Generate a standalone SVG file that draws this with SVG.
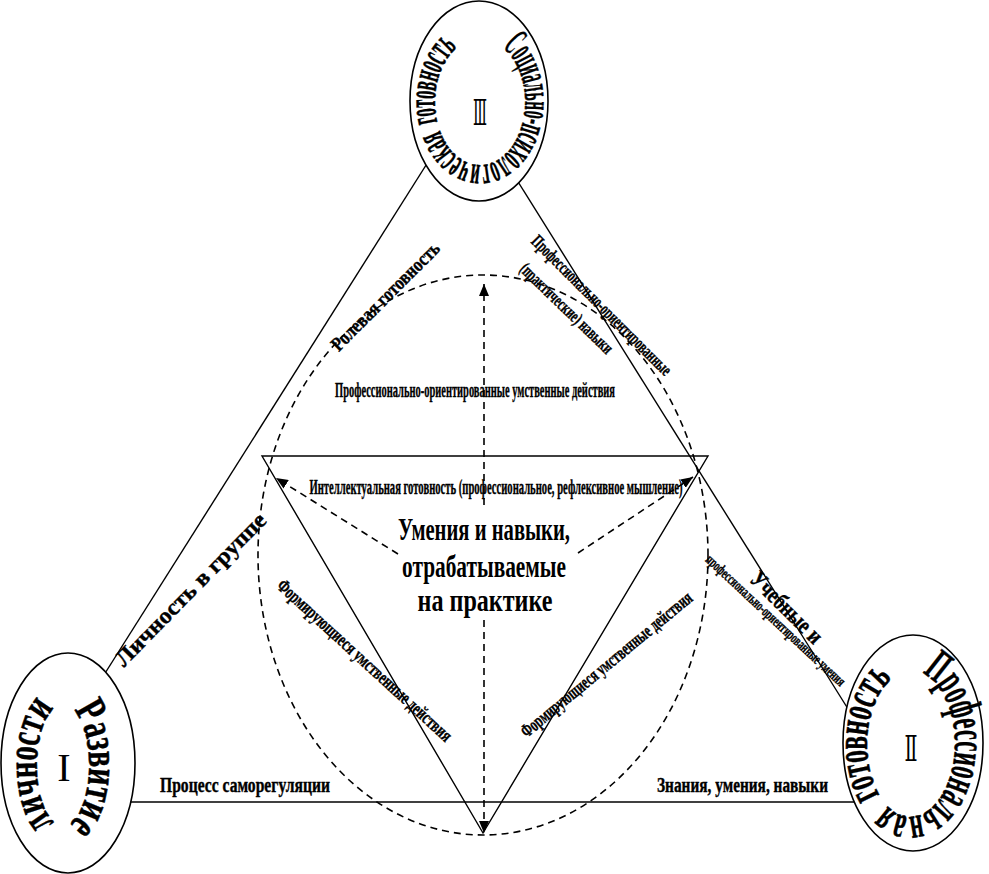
<svg xmlns="http://www.w3.org/2000/svg" width="989" height="874" viewBox="0 0 989 874">
<style>
.ln{stroke:#000;stroke-width:1.4;fill:none}
.dash{stroke:#000;stroke-width:1.6;fill:none;stroke-dasharray:7 5}
.ell{fill:#fff;stroke:#000;stroke-width:1.6}
.lbl{font-family:"Liberation Serif","Times New Roman",serif;font-weight:bold;fill:#000;stroke:#000;stroke-width:0.4}
.cen{font-family:"Liberation Serif","Times New Roman",serif;font-weight:bold;fill:#000;font-size:32px}
.arc{font-family:"Liberation Serif","Times New Roman",serif;font-weight:bold;fill:#000;stroke:#000;stroke-width:0.5}
.num{font-family:"Liberation Serif","DejaVu Serif",serif;fill:#000}
</style>
<defs>
<marker id="ah" viewBox="0 0 12 10" refX="12" refY="5" markerWidth="12" markerHeight="10" markerUnits="userSpaceOnUse" orient="auto">
<path d="M0,0 L12,5 L0,10 z" style="fill:#000;stroke:none"/>
</marker>
<path id="pTop" d="M502.5,47.4 A45,63 0 0,1 457.5,156.6 A45,63 0 0,1 502.5,47.4"/>
<path id="pLeft" d="M73.6,710.2 A26,60 0 0,1 52.4,819.8 A26,60 0 0,1 73.6,710.2"/>
<path id="pRight" d="M921.9,673.2 A45,73 0 0,1 900.1,814.8 A45,73 0 0,1 921.9,673.2"/>
</defs>

<g id="frame">
<line class="ln" x1="440" y1="143" x2="90" y2="697"/>
<line class="ln" x1="505" y1="161" x2="870" y2="744"/>
<line class="ln" x1="100" y1="802" x2="880" y2="802"/>
<polygon class="ln" points="262,456 708,456 483,833"/>
<ellipse class="dash" cx="483" cy="555" rx="225" ry="280"/>
</g>

<g id="connectors">
<line class="dash" x1="484" y1="505" x2="484" y2="284" marker-end="url(#ah)"/>
<line class="dash" x1="484" y1="620" x2="484" y2="833" marker-end="url(#ah)"/>
<line class="dash" x1="398" y1="554" x2="276" y2="478" marker-end="url(#ah)"/>
<line class="dash" x1="578" y1="553" x2="693" y2="477" marker-end="url(#ah)"/>
</g>

<g id="node3">
<ellipse class="ell" cx="479" cy="101" rx="69" ry="100"/>
<text class="arc" font-size="40"><textPath href="#pTop" startOffset="0" textLength="81" lengthAdjust="spacingAndGlyphs">Социально-</textPath></text>
<text class="arc" font-size="40"><textPath href="#pTop" startOffset="81" textLength="122" lengthAdjust="spacingAndGlyphs">психологическая</textPath></text>
<text class="arc" font-size="40"><textPath href="#pTop" startOffset="211" textLength="81" lengthAdjust="spacingAndGlyphs">готовность</textPath></text>
<text class="num" x="480" y="125" font-size="36" text-anchor="middle" textLength="14" lengthAdjust="spacingAndGlyphs">Ⅲ</text>
</g>

<g id="node1">
<ellipse class="ell" cx="68" cy="763" rx="67" ry="110"/>
<text class="arc" font-size="44"><textPath href="#pLeft" startOffset="0" textLength="122" lengthAdjust="spacingAndGlyphs">Развитие</textPath></text>
<text class="arc" font-size="44"><textPath href="#pLeft" startOffset="137" textLength="122" lengthAdjust="spacingAndGlyphs">личности</textPath></text>
<text class="num" x="64" y="781" font-size="40" text-anchor="middle">I</text>
</g>

<g id="node2">
<ellipse class="ell" cx="913" cy="743" rx="70" ry="108"/>
<text class="arc" font-size="46"><textPath href="#pRight" startOffset="0" textLength="201" lengthAdjust="spacingAndGlyphs">Профессиональная</textPath></text>
<text class="arc" font-size="46"><textPath href="#pRight" startOffset="214" textLength="125" lengthAdjust="spacingAndGlyphs">готовность</textPath></text>
<text class="num" x="911" y="761" font-size="36" text-anchor="middle" textLength="13" lengthAdjust="spacingAndGlyphs">Ⅱ</text>
</g>

<g id="labels">
<text class="lbl" font-size="20" text-anchor="middle" dy=".35em" transform="translate(385,296) rotate(-45)" textLength="145" lengthAdjust="spacingAndGlyphs">Ролевая готовность</text>
<text class="lbl" font-size="23" text-anchor="middle" dy=".35em" transform="translate(190,589) rotate(-45.5)" textLength="205" lengthAdjust="spacingAndGlyphs">Личность в группе</text>
<text class="lbl" font-size="18" text-anchor="middle" dy=".35em" transform="translate(602,305) rotate(45)" textLength="190" lengthAdjust="spacingAndGlyphs">Профессионально-ориентированные</text>
<text class="lbl" font-size="18" text-anchor="middle" dy=".35em" transform="translate(567,308) rotate(44)" textLength="122" lengthAdjust="spacingAndGlyphs">(практические) навыки</text>
<text class="lbl" font-size="24" text-anchor="middle" dy=".35em" transform="translate(787,607) rotate(45)" textLength="92" lengthAdjust="spacingAndGlyphs">Учебные и</text>
<text class="lbl" font-size="15" text-anchor="middle" dy=".35em" transform="translate(776,620) rotate(43)" textLength="185" lengthAdjust="spacingAndGlyphs">профессионально-ориентированные умения</text>
<text class="lbl" font-size="19" text-anchor="middle" dy=".35em" transform="translate(365,660) rotate(42.5)" textLength="230" lengthAdjust="spacingAndGlyphs">Формирующиеся умственные действия</text>
<text class="lbl" font-size="19" text-anchor="middle" dy=".35em" transform="translate(606,664) rotate(-39.6)" textLength="217" lengthAdjust="spacingAndGlyphs">Формирующиеся умственные действия</text>
<text class="lbl" font-size="22" x="475" y="397" text-anchor="middle" textLength="280" lengthAdjust="spacingAndGlyphs">Профессионально-ориентированные умственные действия</text>
<text class="lbl" font-size="21" x="496" y="494" text-anchor="middle" textLength="373" lengthAdjust="spacingAndGlyphs">Интеллектуальная готовность (профессиональное, рефлексивное мышление)</text>
<text class="lbl" font-size="20" x="160" y="792" textLength="170" lengthAdjust="spacingAndGlyphs">Процесс саморегуляции</text>
<text class="lbl" font-size="20" x="657" y="792" textLength="171" lengthAdjust="spacingAndGlyphs">Знания, умения, навыки</text>
</g>

<g id="center">
<text class="cen" x="484" y="540" text-anchor="middle" textLength="172" lengthAdjust="spacingAndGlyphs">Умения и навыки,</text>
<text class="cen" x="484" y="577" text-anchor="middle" textLength="164" lengthAdjust="spacingAndGlyphs">отрабатываемые</text>
<text class="cen" x="485" y="611" text-anchor="middle" textLength="135" lengthAdjust="spacingAndGlyphs">на практике</text>
</g>
</svg>
